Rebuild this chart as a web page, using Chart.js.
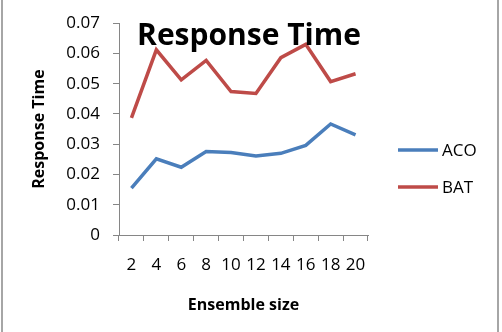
<!DOCTYPE html>
<html>
<head>
<meta charset="utf-8">
<script src="https://cdn.jsdelivr.net/npm/chart.js@4"></script>
<style>
  html, body { margin: 0; padding: 0; background: #fff; }
  #wrap { width: 502px; height: 332px; position: relative; }
</style>
</head>
<body>
<div id="wrap"><canvas id="chart" width="502" height="332"></canvas></div>
<script>
const sizes = ["2", "4", "6", "8", "10", "12", "14", "16", "18", "20"];
const acoTimes = [0.0155, 0.0252, 0.0224, 0.0276, 0.0273, 0.0261, 0.0270, 0.0296, 0.0367, 0.0331];
const batTimes = [0.0387, 0.0612, 0.0513, 0.0577, 0.0474, 0.0468, 0.0586, 0.0630, 0.0507, 0.0533];
const yTickLabels = ["0", "0.01", "0.02", "0.03", "0.04", "0.05", "0.06", "0.07"];

const axisGray = "#868686";
const font = "'Open Sans', sans-serif";

// frame, title and legend drawn on top of the chart
const extras = {
  id: "extras",
  beforeDraw(chart) {
    const ctx = chart.ctx;
    ctx.save();
    ctx.fillStyle = "#a6a6a6";
    ctx.fillRect(1, 0, 2, 332);
    ctx.fillRect(497, 0, 2, 332);
    ctx.restore();
  },
  afterDatasetsDraw(chart) {
    const ctx = chart.ctx;
    ctx.save();
    ctx.fillStyle = "#000";
    ctx.font = "bold 30px " + font;
    ctx.textAlign = "center";
    ctx.textBaseline = "alphabetic";
    ctx.fillText("Response Time", 249, 45);

    ctx.font = "17px " + font;
    ctx.textAlign = "left";
    ctx.textBaseline = "middle";
    const rows = [150, 187];
    chart.data.datasets.forEach((ds, i) => {
      ctx.strokeStyle = ds.borderColor;
      ctx.lineWidth = 3.5;
      ctx.beginPath();
      ctx.moveTo(398, rows[i]);
      ctx.lineTo(438, rows[i]);
      ctx.stroke();
      ctx.fillStyle = "#000";
      ctx.fillText(ds.label, 442, rows[i] + 1);
    });
    ctx.restore();
  },
};

new Chart(document.getElementById("chart"), {
  type: "line",
  data: {
    labels: sizes,
    datasets: [
      { label: "ACO", data: acoTimes, borderColor: "#4a7ebb", borderWidth: 3.5, pointRadius: 0, tension: 0 },
      { label: "BAT", data: batTimes, borderColor: "#be4b48", borderWidth: 3.5, pointRadius: 0, tension: 0 },
    ],
  },
  options: {
    responsive: false,
    animation: false,
    layout: { padding: { left: 0, right: 134, top: 18, bottom: 0 } },
    plugins: { legend: { display: false }, tooltip: { enabled: false } },
    scales: {
      x: {
        offset: true,
        afterFit: (s) => { s.height = 97; },
        grid: { offset: true, drawOnChartArea: false, tickLength: 6, color: axisGray },
        border: { color: axisGray, width: 1 },
        ticks: { color: "#000", font: { family: font, size: 17 }, padding: 14, maxRotation: 0 },
        title: {
          display: true, text: "Ensemble size", color: "#000",
          font: { family: font, size: 16, weight: "bold" }, padding: { bottom: 17 },
        },
      },
      y: {
        min: 0, max: 0.07,
        afterFit: (s) => { s.width = 119; },
        grid: { drawOnChartArea: false, tickLength: 6, color: axisGray },
        border: { color: axisGray, width: 1 },
        ticks: {
          stepSize: 0.01, color: "#000", font: { family: font, size: 17 }, padding: 13,
          callback: (v, i) => yTickLabels[i],
        },
        title: {
          display: true, text: "Response Time", color: "#000",
          font: { family: font, size: 16, weight: "bold" }, padding: { top: 30 },
        },
      },
    },
  },
  plugins: [extras],
});
</script>
</body>
</html>
